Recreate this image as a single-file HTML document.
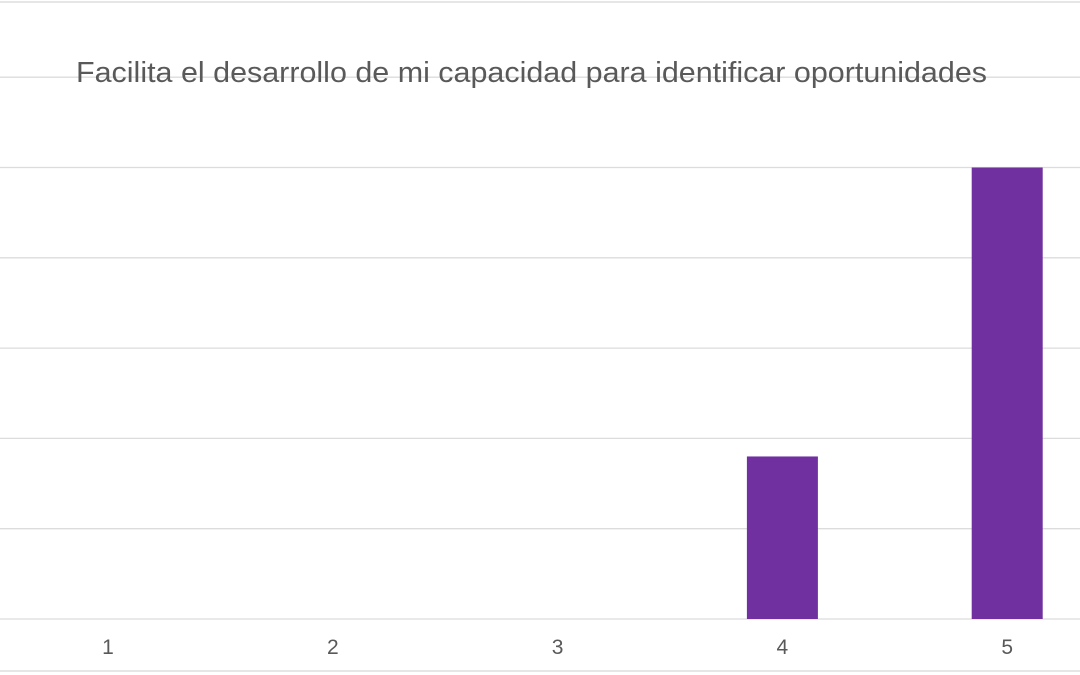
<!DOCTYPE html>
<html><head><meta charset="utf-8"><style>
body{margin:0;background:#fff;}
svg{display:block;font-family:"Liberation Sans",Arial,sans-serif;}
</style></head><body>
<svg id="chart" width="1080" height="675" viewBox="0 0 1080 675">
<line x1="0" y1="2" x2="1080" y2="2" stroke="#ddd" stroke-width="1.5"/>
<line x1="0" y1="671" x2="1080" y2="671" stroke="#ddd" stroke-width="1.5"/>
<g id="grid"></g>
<text x="76" y="82" font-size="29" textLength="911" lengthAdjust="spacingAndGlyphs" fill="#595959">Facilita el desarrollo de mi capacidad para identificar oportunidades</text>
<g id="bars"></g>
<g id="xlabels"></g>
</svg>
<script>
const categories=["1","2","3","4","5"];
const values=[0,0,0,1.8,5];
const gridTicks=[0,1,2,3,4,5,6];
const NS="http://www.w3.org/2000/svg";
const baseY=619, unit=90.3, x0=108, step=224.8, bw=71;
const y=v=>baseY-v*unit;
const x=i=>x0+i*step;
const grid=document.getElementById('grid'),bars=document.getElementById('bars'),xl=document.getElementById('xlabels');
gridTicks.forEach(t=>{
  const l=document.createElementNS(NS,'line');
  l.setAttribute('x1',0);l.setAttribute('x2',1080);l.setAttribute('y1',y(t));l.setAttribute('y2',y(t));
  l.setAttribute('stroke','#dcdcdc');l.setAttribute('stroke-width','1.3');
  
  
  grid.appendChild(l);
});
categories.forEach((c,i)=>{
  if(values[i]>0){
    const r=document.createElementNS(NS,'rect');
    r.setAttribute('x',x(i)-bw/2);r.setAttribute('width',bw);
    r.setAttribute('y',y(values[i]));r.setAttribute('height',values[i]*unit);
    r.setAttribute('fill','#7030a0');
    
    
    bars.appendChild(r);
  }
  const t=document.createElementNS(NS,'text');
  t.setAttribute('x',x(i));t.setAttribute('y',654);t.setAttribute('text-anchor','middle');
  t.setAttribute('font-size','21');t.setAttribute('fill','#595959');
  t.textContent=c;
  
  
  xl.appendChild(t);
});
</script>
</body></html>
